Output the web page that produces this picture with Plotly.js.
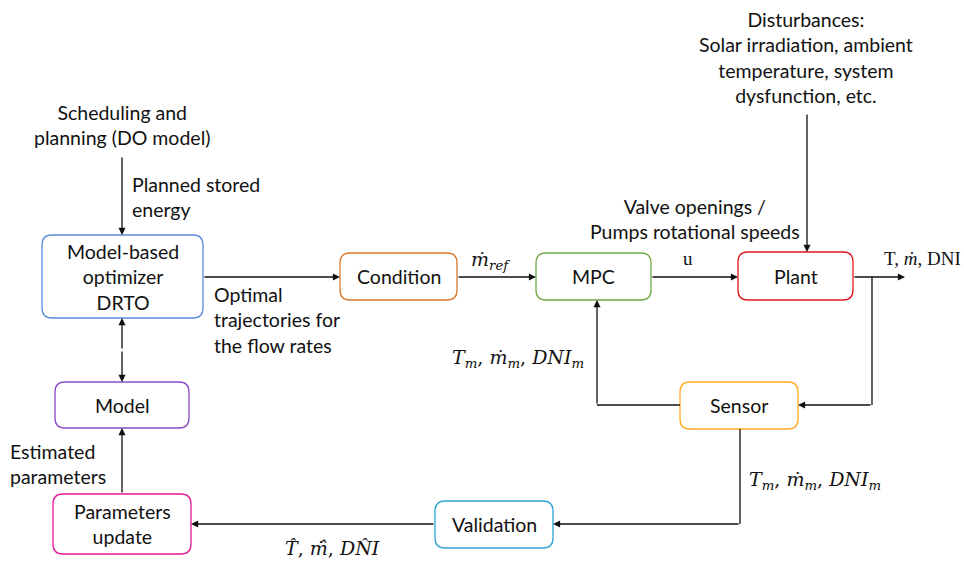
<!DOCTYPE html>
<html><head><meta charset="utf-8">
<script src="https://cdn.plot.ly/plotly-3.0.1.min.js"></script>
<style>html,body{margin:0;padding:0;background:#fff}#c{width:964px;height:561px}</style>
</head><body><div id="c"></div>
<script>
// ---- content ----
const nodeNames = ["Model-based<br>optimizer<br>DRTO", "Condition", "MPC", "Plant", "Sensor", "Validation", "Model", "Parameters<br>update"];
const nodeColors = ["#5B8BDB", "#D9782E", "#6FA84A", "#E0141E", "#FFAA1E", "#2FA3D4", "#8A4CC2", "#E6189A"];
const freeTexts = ["Scheduling and<br>planning (DO model)", "Planned stored<br>energy", "Optimal<br>trajectories for<br>the flow rates",
  "Valve openings /<br>Pumps rotational speeds", "Disturbances:<br>Solar irradiation, ambient<br>temperature, system<br>dysfunction, etc.",
  "Estimated<br>parameters"];
const mathTexts = ["<i>ṁ</i><sub><i>ref</i></sub>", "u", "T, <i>ṁ</i>, DNI", "<i>T</i><sub><i>m</i></sub>, <i>ṁ</i><sub><i>m</i></sub>, <i>DNI</i><sub><i>m</i></sub>",
  "<i>T</i><sub><i>m</i></sub>, <i>ṁ</i><sub><i>m</i></sub>, <i>DNI</i><sub><i>m</i></sub>", "<i>T\u0302</i>, <i>m\u0307\u0302</i>, <i>DN\u0302I</i>"];

// ---- geometry (pixel layout) ----
const boxes = [[42,235,203,318],[340,253,457,300],[536,253,651,300],[738,252,853,300],[680,382,798,429],[435,501,553,548],[55,382,189,428],[53,494,191,554]];
const freePos = [[122,125,"center"],[130,197,"left"],[212,320,"left"],[695,219,"center"],[806,57,"center"],[8,464,"left"]];
const mathPos = [[490,260,"center"],[688,258,"center"],[882,258,"left"],[518,358,"center"],[815,480,"center"],[332,548,"center"]];
const mathFonts = ["'DejaVu Serif'", "'Liberation Serif'", "'Liberation Serif'", "'DejaVu Serif'", "'DejaVu Serif'", "'DejaVu Serif'"];
// arrows: [tailx, taily, headx, heady]
const arrows = [[122,156,122,235],[203,277,340,277],[457,277,536,277],[651,277,738,277],[807,113,807,252],[853,277,905,277],
  [872,405,798,405],[597,405,597,300],[435,524,191,524],[122,494,122,428],[122,350,122,318],[122,350,122,382],[740,524,553,524]];
const lines = [[872,277,872,405],[680,405,597,405],[740,429,740,524]];

const FONT = "Lato, 'Open Sans', sans-serif";

function rr(x0,y0,x1,y1,r){
  return `M${x0+r},${y0} L${x1-r},${y0} Q${x1},${y0} ${x1},${y0+r} L${x1},${y1-r} Q${x1},${y1} ${x1-r},${y1} L${x0+r},${y1} Q${x0},${y1} ${x0},${y1-r} L${x0},${y0+r} Q${x0},${y0} ${x0+r},${y0} Z`;
}
const shapes = [];
const ann = [];
boxes.forEach((b,i)=>{
  shapes.push({type:'path', xref:'x', yref:'y', path: rr(b[0],b[1],b[2],b[3],10), line:{color:nodeColors[i], width:1.3}, fillcolor:'rgba(0,0,0,0)'});
  ann.push({x:(b[0]+b[2])/2, y:(b[1]+b[3])/2, xref:'x', yref:'y', text:nodeNames[i], showarrow:false, font:{family:FONT,size:19.5,color:'#111'}, xanchor:'center', yanchor:'middle', align:'center'});
});
lines.forEach(l=>shapes.push({type:'line', xref:'x', yref:'y', x0:l[0], y0:l[1], x1:l[2], y1:l[3], line:{color:'#111', width:1.3}}));
arrows.forEach(a=>ann.push({x:a[2], y:a[3], ax:a[0], ay:a[1], xref:'x', yref:'y', axref:'x', ayref:'y', text:'', showarrow:true, arrowhead:2, arrowsize:1.1, arrowwidth:1.3, arrowcolor:'#111', standoff:0}));
freeTexts.forEach((t,i)=>{
  const p = freePos[i];
  ann.push({x:p[0], y:p[1], xref:'x', yref:'y', text:t, showarrow:false, font:{family:FONT,size:19.5,color:'#111'}, xanchor:p[2], yanchor:'middle', align:p[2]});
});
mathTexts.forEach((t,i)=>{
  const p = mathPos[i];
  ann.push({x:p[0], y:p[1], xref:'x', yref:'y', text:t, showarrow:false, font:{family:mathFonts[i]+", serif",size:19,color:'#111'}, xanchor:p[2], yanchor:'middle', align:p[2]});
});

Plotly.newPlot('c', [], {
  width:964, height:561, margin:{l:0,r:0,t:0,b:0}, paper_bgcolor:'#fff', plot_bgcolor:'#fff',
  xaxis:{range:[0,964], visible:false, fixedrange:true},
  yaxis:{range:[561,0], visible:false, fixedrange:true},
  shapes:shapes, annotations:ann, showlegend:false
}, {staticPlot:true});
</script></body></html>
